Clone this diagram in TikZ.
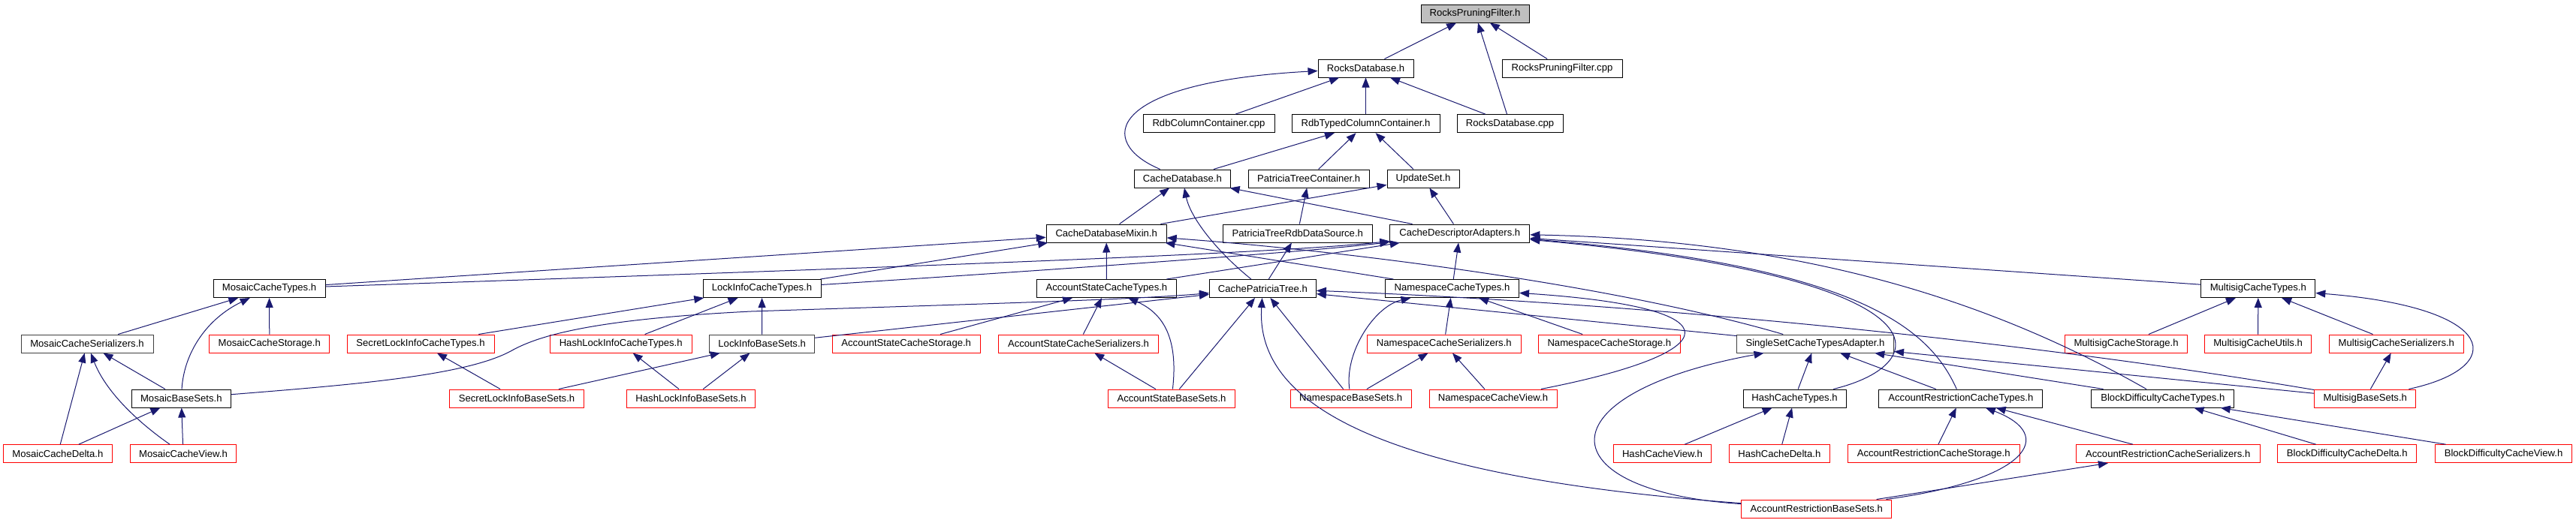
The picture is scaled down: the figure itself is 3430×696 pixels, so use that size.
\documentclass[tikz,border=0pt]{standalone}
\usepackage{fontspec}
\setmainfont{Liberation Sans}
\usetikzlibrary{arrows.meta}
\definecolor{edgeblue}{HTML}{191970}
\definecolor{rootgray}{HTML}{BFBFBF}
\definecolor{darkborder}{HTML}{404040}
\begin{document}
\begin{tikzpicture}[x=0.5pt,y=-0.5pt,
  box/.style={draw=black, line width=0.5pt, fill=white, rectangle, inner sep=0pt, minimum height=12pt, font=\fontsize{6.55}{7.8}\selectfont, text=black},
  rootbox/.style={box, fill=rootgray},
  redbox/.style={box, draw=red},
  greybox/.style={box, draw=darkborder},
  edge/.style={draw=edgeblue, line width=0.5pt, -{Triangle[length=6.5pt,width=5pt]}}
]
\fill[white] (0,0) rectangle (3430,696);
\useasboundingbox (0,0) rectangle (3430,696);
% row 0-4
\node[rootbox,minimum width=72pt] (rpf) at (1964,18) {RocksPruningFilter.h};
\node[box,minimum width=63.5pt] (rdb) at (1818.5,91) {RocksDatabase.h};
\node[box,minimum width=80pt] (rpfcpp) at (2080,91) {RocksPruningFilter.cpp};
\node[box,minimum width=87.5pt] (rdbcc) at (1609.5,164.7) {RdbColumnContainer.cpp};
\node[box,minimum width=98.5pt] (rtcc) at (1818.5,164.7) {RdbTypedColumnContainer.h};
\node[box,minimum width=70.5pt] (rdbcpp) at (2010.5,164.7) {RocksDatabase.cpp};
\node[box,minimum width=64pt] (cdb) at (1574.4,238) {CacheDatabase.h};
\node[box,minimum width=80.5pt] (ptc) at (1742.7,238) {PatriciaTreeContainer.h};
\node[box,minimum width=48pt] (upd) at (1895,238) {UpdateSet.h};
\node[box,minimum width=80pt] (cdbm) at (1473.2,311) {CacheDatabaseMixin.h};
\node[box,minimum width=99.5pt] (ptrds) at (1727.8,311) {PatriciaTreeRdbDataSource.h};
\node[box,minimum width=93pt] (cda) at (1943.8,311) {CacheDescriptorAdapters.h};
% row 5
\node[box,minimum width=74.5pt] (mct) at (358.6,384.5) {MosaicCacheTypes.h};
\node[box,minimum width=78.5pt] (lict) at (1014.5,384.5) {LockInfoCacheTypes.h};
\node[box,minimum width=93pt] (asct) at (1473.4,384.5) {AccountStateCacheTypes.h};
\node[box,minimum width=71pt] (cpt) at (1681.4,384.5) {CachePatriciaTree.h};
\node[box,minimum width=89pt] (nct) at (1933.5,384.5) {NamespaceCacheTypes.h};
\node[box,minimum width=76pt] (msct) at (3006.8,384.5) {MultisigCacheTypes.h};
% row 6
\node[greybox,minimum width=88pt] (mser) at (116,458) {MosaicCacheSerializers.h};
\node[redbox,minimum width=80pt] (mstor) at (358.8,458) {MosaicCacheStorage.h};
\node[redbox,minimum width=98pt] (slict) at (560,458) {SecretLockInfoCacheTypes.h};
\node[redbox,minimum width=94.5pt] (hlict) at (826.7,458) {HashLockInfoCacheTypes.h};
\node[greybox,minimum width=70pt] (lib) at (1014.7,458) {LockInfoBaseSets.h};
\node[redbox,minimum width=98.5pt] (asstor) at (1206.7,458) {AccountStateCacheStorage.h};
\node[redbox,minimum width=106.5pt] (asser) at (1436,458) {AccountStateCacheSerializers.h};
\node[redbox,minimum width=102.5pt] (nser) at (1922.8,458) {NamespaceCacheSerializers.h};
\node[redbox,minimum width=94.5pt] (nstor) at (2142.8,458) {NamespaceCacheStorage.h};
\node[greybox,minimum width=104.5pt] (ssa) at (2417,458) {SingleSetCacheTypesAdapter.h};
\node[redbox,minimum width=81.5pt] (msstor) at (2831,458) {MultisigCacheStorage.h};
\node[redbox,minimum width=71pt] (msutil) at (3006.6,458) {MultisigCacheUtils.h};
\node[redbox,minimum width=89.5pt] (msser) at (3190.8,458) {MultisigCacheSerializers.h};
% row 7
\node[box,minimum width=66pt] (mbs) at (241.3,531) {MosaicBaseSets.h};
\node[redbox,minimum width=89.5pt] (slibs) at (688,531) {SecretLockInfoBaseSets.h};
\node[redbox,minimum width=85.5pt] (hlibs) at (920,531) {HashLockInfoBaseSets.h};
\node[redbox,minimum width=84.5pt] (asbs) at (1560,531) {AccountStateBaseSets.h};
\node[redbox,minimum width=80.5pt] (nbs) at (1798.6,531) {NamespaceBaseSets.h};
\node[redbox,minimum width=85pt] (ncv) at (1988,531) {NamespaceCacheView.h};
\node[box,minimum width=68.5pt] (hct) at (2389.5,531) {HashCacheTypes.h};
\node[box,minimum width=109pt] (arct) at (2610.9,531) {AccountRestrictionCacheTypes.h};
\node[box,minimum width=95pt] (bdct) at (2879.8,531) {BlockDifficultyCacheTypes.h};
\node[redbox,minimum width=67.5pt] (msbs) at (3149.2,531) {MultisigBaseSets.h};
% row 8
\node[redbox,minimum width=72.5pt] (mcd) at (76.9,604.7) {MosaicCacheDelta.h};
\node[redbox,minimum width=70.5pt] (mcv) at (244,604.7) {MosaicCacheView.h};
\node[redbox,minimum width=65pt] (hcv) at (2213.4,604.7) {HashCacheView.h};
\node[redbox,minimum width=67pt] (hcd) at (2369.3,604.7) {HashCacheDelta.h};
\node[redbox,minimum width=114.5pt] (arstor) at (2574.7,604.7) {AccountRestrictionCacheStorage.h};
\node[redbox,minimum width=122.5pt] (arser) at (2886.7,604.7) {AccountRestrictionCacheSerializers.h};
\node[redbox,minimum width=92.5pt] (bdcd) at (3125.2,604.7) {BlockDifficultyCacheDelta.h};
\node[redbox,minimum width=91pt] (bdcv) at (3333.5,604.7) {BlockDifficultyCacheView.h};
% row 9
\node[redbox,minimum width=100pt] (arbs) at (2418.8,678) {AccountRestrictionBaseSets.h};

% edges
\draw[edge] (rdb) -- (rpf);
\draw[edge] (rdbcpp) -- (rpf);
\draw[edge] (rpfcpp) -- (rpf);
\draw[edge] (rdbcc) -- (rdb);
\draw[edge] (rtcc) -- (rdb);
\draw[edge] (rdbcpp) -- (rdb);
\draw[edge] (cdb) .. controls (1460,190) and (1470,110) .. (rdb);
\draw[edge] (cdb) -- (rtcc);
\draw[edge] (ptc) -- (rtcc);
\draw[edge] (upd) -- (rtcc);
\draw[edge] (cdbm) -- (cdb);
\draw[edge] (cpt) .. controls (1620,335) and (1585,290) .. (cdb);
\draw[edge] (ptrds) -- (ptc);
\draw[edge] (cpt) -- (ptrds);
\draw[edge] (cdbm) -- (upd);
\draw[edge] (cda) -- (cdb);
\draw[edge] (cda) -- (upd);
\draw[edge] (mct) -- (cdbm);
\draw[edge] (mct) .. controls (1200,356) and (1700,338) .. (cda);
\draw[edge] (lict) -- (cdbm);
\draw[edge] (lict) .. controls (1400,360) and (1750,335) .. (cda);
\draw[edge] (asct) -- (cdbm);
\draw[edge] (asct) -- (cda);
\draw[edge] (nct) -- (cda);
\draw[edge] (nct) -- (cdbm);
\draw[edge] (ssa) .. controls (2150,380) and (1800,335) .. (cdbm);
\draw[edge] (ssa) -- (cpt);
\draw[edge] (msbs) .. controls (2700,455) and (2200,405) .. (cpt);
\draw[edge] (msbs) -- (ssa);
\draw[edge] (hct) -- (ssa);
\draw[edge] (arct) -- (ssa);
\draw[edge] (bdct) -- (ssa);
\draw[edge] (arbs) .. controls (2060,655) and (2050,525) .. (ssa);
\draw[edge] (arbs) .. controls (1900,640) and (1670,560) .. (cpt);
\draw[edge] (nbs) -- (cpt);
\draw[edge] (asbs) -- (cpt);
\draw[edge] (lib) -- (cpt);
\draw[edge] (mbs) .. controls (480,512) and (620,500) .. (680,468) .. controls (720,445) and (800,425) .. (1000,415) .. controls (1300,405) and (1500,400) .. (cpt);
\draw[edge] (asstor) -- (asct);
\draw[edge] (asser) -- (asct);
\draw[edge] (asbs) .. controls (1568,460) and (1555,420) .. (asct);
\draw[edge] (asbs) -- (asser);
\draw[edge] (slict) -- (lict);
\draw[edge] (hlict) -- (lict);
\draw[edge] (lib) -- (lict);
\draw[edge] (slibs) -- (slict);
\draw[edge] (slibs) -- (lib);
\draw[edge] (hlibs) -- (hlict);
\draw[edge] (hlibs) -- (lib);
\draw[edge] (mser) -- (mct);
\draw[edge] (mbs) .. controls (245,470) and (275,425) .. (mct);
\draw[edge] (mstor) -- (mct);
\draw[edge] (mbs) -- (mser);
\draw[edge] (mcd) -- (mser);
\draw[edge] (mcv) .. controls (180,560) and (140,520) .. (mser);
\draw[edge] (mcd) -- (mbs);
\draw[edge] (mcv) -- (mbs);
\draw[edge] (nser) -- (nct);
\draw[edge] (nstor) -- (nct);
\draw[edge] (nbs) .. controls (1790,470) and (1830,408) .. (nct);
\draw[edge] (nbs) -- (nser);
\draw[edge] (ncv) -- (nser);
\draw[edge] (ncv) .. controls (2300,470) and (2320,410) .. (nct);
\draw[edge] (hct) .. controls (2580,485) and (2600,370) .. (cda);
\draw[edge] (arct) .. controls (2570,440) and (2480,355) .. (cda);
\draw[edge] (bdct) .. controls (2650,400) and (2400,320) .. (cda);
\draw[edge] (msct) -- (cda);
\draw[edge] (msstor) -- (msct);
\draw[edge] (msutil) -- (msct);
\draw[edge] (msser) -- (msct);
\draw[edge] (msbs) .. controls (3340,490) and (3330,410) .. (msct);
\draw[edge] (msbs) -- (msser);
\draw[edge] (hcv) -- (hct);
\draw[edge] (hcd) -- (hct);
\draw[edge] (arstor) -- (arct);
\draw[edge] (arbs) .. controls (2700,640) and (2740,580) .. (arct);
\draw[edge] (arser) -- (arct);
\draw[edge] (arbs) -- (arser);
\draw[edge] (bdcd) -- (bdct);
\draw[edge] (bdcv) -- (bdct);
\end{tikzpicture}
\end{document}
